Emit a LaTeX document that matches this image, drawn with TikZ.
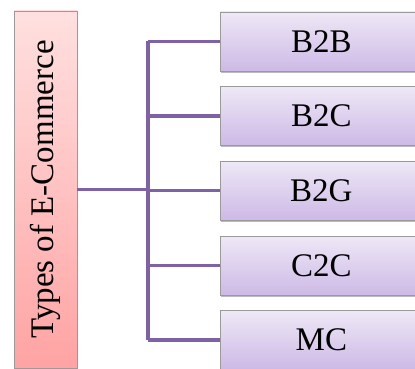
\documentclass[tikz,border=0pt]{standalone}
\usepackage{fontspec}
\setmainfont{Liberation Serif}
\usetikzlibrary{shadows}
\definecolor{pinktop}{HTML}{FFE0E0}
\definecolor{pinkbot}{HTML}{FFA3A3}
\definecolor{lavtop}{HTML}{EEE8F6}
\definecolor{lavbot}{HTML}{CDB9E6}
\definecolor{conncol}{HTML}{7F62A6}
\definecolor{edgecol}{HTML}{9A9A9A}
\tikzset{
  rootbox/.style={draw=edgecol, line width=0.8pt, top color=pinktop, bottom color=pinkbot,
    minimum width=63pt, minimum height=357pt, inner sep=0pt,
    font=\fontsize{33}{36}\selectfont},
  typebox/.style={draw=edgecol, line width=0.8pt, top color=lavtop, bottom color=lavbot,
    minimum width=220pt, minimum height=59pt, inner sep=0pt, anchor=west,
    font=\fontsize{33}{36}\selectfont,
    drop shadow={shadow xshift=0.8pt, shadow yshift=-1.6pt, opacity=0.45, fill=black!60}},
  conn/.style={draw=conncol, line width=3.5pt}
}
\begin{document}
\begin{tikzpicture}[x=1pt,y=-1pt]
\useasboundingbox (0,0) rectangle (415,369);
\clip (0,0) rectangle (415,369);
\node[rootbox] (root) at (45.5,189.5) {\rotatebox{90}{Types of E-Commerce}};
\node[typebox] (b1) at (220,41.5) {\hspace*{-18pt}B2B};
\node[typebox] (b2) at (220,116) {\hspace*{-18pt}B2C};
\node[typebox] (b3) at (220,190.5) {\hspace*{-18pt}B2G};
\node[typebox] (b4) at (220,265.5) {\hspace*{-18pt}C2C};
\node[typebox] (b5) at (220,340) {\hspace*{-18pt}MC};
\coordinate (spine) at (148,189.5);
\draw[conn] (root.east) -- (spine);
\draw[conn] (spine |- b1.west) -- (spine |- b5.west);
\foreach \i in {1,...,5} {
  \draw[conn] (spine |- b\i.west) -- (b\i.west);
}
\end{tikzpicture}
\end{document}
